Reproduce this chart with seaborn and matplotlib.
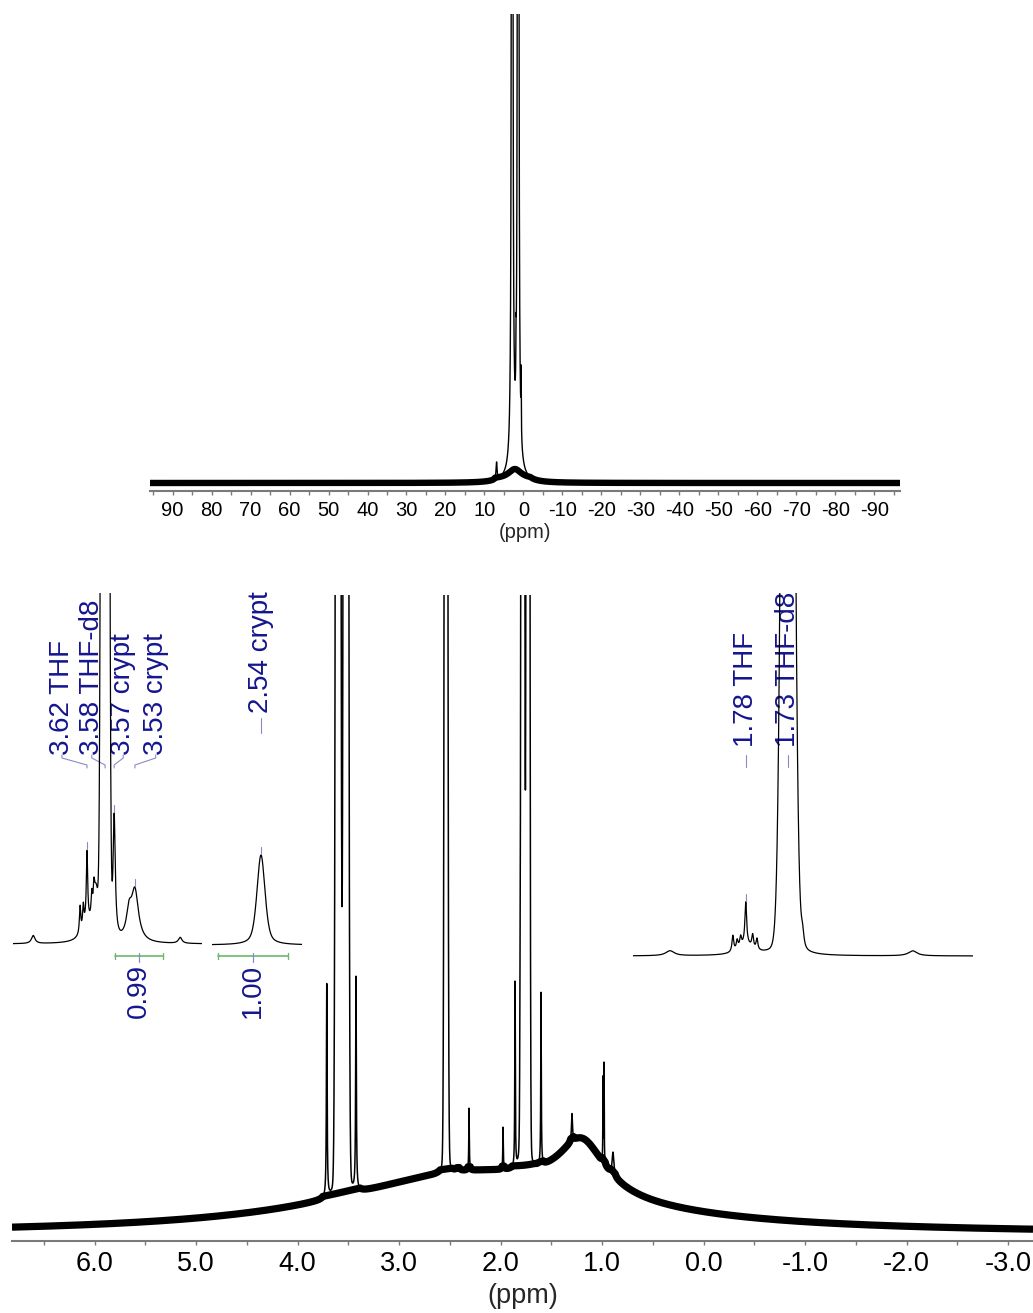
import numpy as np
import matplotlib
matplotlib.use("Agg")
import matplotlib.pyplot as plt
import seaborn as sns
from matplotlib.ticker import MultipleLocator, FormatStrFormatter

# Peak tables: position (ppm), height (px above baseline),
# half width (ppm), lorentzian fraction of the line shape
top_ppm = [6.9, 2.9, 1.9, 1.36, 0.6, 2.2]
top_height = [17, 30000, 40, 30000, 60, 10]
top_width = [0.15, 0.03, 0.05, 0.03, 0.05, 2.0]
top_lorentz = [1, 1, 1, 1, 1, 1]
top_offset = 8

main_ppm = [3.712, 3.600, 3.523, 3.424, 2.537, 2.419, 2.310, 1.975, 1.857, 1.808,
            1.7805, 1.7295, 1.601, 1.296, 0.990, 0.980, 0.892, 2.3, 1.2]
main_height = [213, 5000, 5000, 213, 3000, 5, 62, 42, 185, 90,
               5000, 5000, 172, 28, 83, 99, 23, 60, 55]
main_width = [0.004, 0.0168, 0.0168, 0.004, 0.0126, 0.015, 0.003, 0.003, 0.003, 0.004,
              0.0116, 0.0116, 0.003, 0.006, 0.002, 0.002, 0.01, 1.6, 0.28]
main_lorentz = [1, 0.02, 0.02, 1, 0.03, 1, 1, 1, 1, 1,
                0.02, 0.02, 1, 1, 1, 1, 1, 1, 1]
main_offset = 7

ins1_ppm = [3.721, 3.633, 3.627, 3.620, 3.611, 3.607, 3.603, 3.62, 3.586,
            3.569, 3.541, 3.530, 3.445]
ins1_height = [8, 27, 22, 70, 22, 20, 50, 15, 6420, 125, 25, 50, 6]
ins1_width = [0.004, 0.0015, 0.0015, 0.0015, 0.0015, 0.0015, 0.006, 0.012, 0.00457,
              0.0025, 0.006, 0.008, 0.004]
ins1_lorentz = [1, 1, 1, 1, 1, 1, 1, 1, 0, 1, 1, 1, 1]

ins2_ppm = [2.54]
ins2_height = [90]
ins2_width = [0.009]
ins2_lorentz = [0.5]

ins3_ppm = [1.868, 1.795, 1.790, 1.786, 1.780, 1.772, 1.767, 1.78, 1.731, 1.731,
            1.714, 1.586]
ins3_height = [5, 16, 9, 10, 42, 13, 11, 10, 1743, 60, 15, 5]
ins3_width = [0.006, 0.0012, 0.0012, 0.0012, 0.0012, 0.0012, 0.0012, 0.01, 0.00616,
              0.007, 0.002, 0.006]
ins3_lorentz = [1, 1, 1, 1, 1, 1, 1, 1, 0, 1, 1, 1]

# labels of the multiplets
ins1_labels = ["3.62 THF", "3.58 THF-d8", "3.57 crypt", "3.53 crypt"]
ins1_label_peak = [3.620, 3.586, 3.569, 3.530]
ins1_label_pos = [3.667, 3.611, 3.552, 3.491]
ins2_labels = ["2.54 crypt"]
ins2_label_peak = [2.54]
ins3_labels = ["1.78 THF", "1.73 THF-d8"]
ins3_label_peak = [1.780, 1.731]

integral_ranges = [(3.567, 3.477), (2.621, 2.489)]
integral_values = ["0.99", "1.00"]

text_blue = "#15158f"
line_blue = "#8a8ac8"
green = "#6cb86c"


def spectrum(x, ppm, height, width, lorentz, offset=0.0):
    y = np.full_like(x, float(offset))
    for p, h, w, e in zip(ppm, height, width, lorentz):
        d = (x - p) / w
        y += h * (e / (1 + d ** 2) + (1 - e) * np.exp(-np.log(2) * d ** 2))
    return y


sns.set_theme(style="white")
plt.rcParams["font.family"] = ["Liberation Sans", "DejaVu Sans"]
plt.rcParams["axes.unicode_minus"] = False

W, H = 1033, 1313
fig = plt.figure(figsize=(W / 100, H / 100), dpi=100)


def px_axes(left, top, right, bottom):
    return fig.add_axes([left / W, 1 - bottom / H, (right - left) / W, (bottom - top) / H])


def style_axis(ax, major, minor, fmt, size):
    for s in ["left", "top", "right"]:
        ax.spines[s].set_visible(False)
    ax.spines["bottom"].set_color("#7a7a7a")
    ax.spines["bottom"].set_linewidth(1.5)
    ax.set_yticks([])
    ax.xaxis.set_major_locator(MultipleLocator(major))
    ax.xaxis.set_minor_locator(MultipleLocator(minor))
    ax.xaxis.set_major_formatter(FormatStrFormatter(fmt))
    ax.tick_params(axis="x", which="both", direction="out", bottom=True,
                   color="#7a7a7a", length=3, width=1, labelsize=size, pad=4,
                   labelcolor="black")
    ax.set_facecolor("none")


# ---- top panel: full sweep ----
ax_top = px_axes(150, 14, 900, 491)
xt = np.linspace(95.8, -96.6, 40000)
yt = spectrum(xt, top_ppm, top_height, top_width, top_lorentz, top_offset)
bt = spectrum(xt, top_ppm[-1:], top_height[-1:], top_width[-1:], top_lorentz[-1:], top_offset)
ax_top.plot(xt, np.minimum(yt, bt + 4), color="black", lw=4.6, solid_capstyle="butt")
sns.lineplot(x=xt, y=yt, ax=ax_top, color="black", lw=1.0, estimator=None, sort=False)
ax_top.set_xlim(95.8, -96.6)
ax_top.set_ylim(0, 477)
style_axis(ax_top, 10, 5, "%d", 14.5)
ax_top.set_xlabel("(ppm)", fontsize=14.5)
ax_top.xaxis.label.set_va("center")
ax_top.xaxis.set_label_coords(0.5, -41 / 477)

# ---- bottom panel: expansion ----
ax = px_axes(12, 595, 1033, 1241)
xm = np.linspace(6.813, -3.246, 40000)
ym = spectrum(xm, main_ppm, main_height, main_width, main_lorentz, main_offset)
bm = spectrum(xm, main_ppm[-2:], main_height[-2:], main_width[-2:], main_lorentz[-2:], main_offset)
ax.plot(xm, np.minimum(ym, bm + 4), color="black", lw=5.2, solid_capstyle="butt")
sns.lineplot(x=xm, y=ym, ax=ax, color="black", lw=1.1, estimator=None, sort=False)
ax.set_xlim(6.813, -3.246)
ax.set_ylim(0, 646)
style_axis(ax, 1.0, 0.5, "%.1f", 19.5)
ax.set_xlabel("(ppm)", fontsize=19.5)
ax.xaxis.label.set_va("center")
ax.xaxis.set_label_coords(0.5, -55 / 646)


def inset(left, right, base, top, xlim, ppm, height, width, lorentz):
    a = px_axes(left, top, right, base + 6)
    a.set_axis_off()
    xs = np.linspace(xlim[0], xlim[1], 12000)
    ys = spectrum(xs, ppm, height, width, lorentz)
    sns.lineplot(x=xs, y=ys, ax=a, color="black", lw=0.9, estimator=None, sort=False, zorder=3)
    a.set_xlim(*xlim)
    a.set_ylim(-6, base - top)
    return a, xs, ys


def peak_top(xs, ys, p):
    return ys[np.argmin(np.abs(xs - p))]


def label_straight(a, xs, ys, p, text, text_bottom, dash_top, dash_bottom):
    a.text(p, text_bottom, text, rotation=90, ha="center", va="bottom",
           color=text_blue, fontsize=20, zorder=1)
    a.plot([p, p], [dash_bottom, dash_top], color=line_blue, lw=0.8, zorder=1)
    yp = peak_top(xs, ys, p)
    a.plot([p, p], [yp + 1, yp + 8], color=line_blue, lw=0.8, zorder=4)


def integral(a, rng, value, bar_y):
    a.plot(rng, [bar_y, bar_y], color=green, lw=1.2, clip_on=False)
    for e in rng:
        a.plot([e, e], [bar_y - 3, bar_y + 3], color=green, lw=1.0, clip_on=False)
    c = (rng[0] + rng[1]) / 2
    a.plot([c, c], [bar_y + 3, bar_y - 6], color=line_blue, lw=0.9, clip_on=False)
    a.text(c, bar_y - 8, value, rotation=90, ha="center", va="top",
           color=text_blue, fontsize=20, clip_on=False)


# inset 1: 3.76 - 3.40 ppm
a1, x1, y1 = inset(13, 202, 944, 593, (3.759, 3.404), ins1_ppm, ins1_height, ins1_width, ins1_lorentz)
for lbl, p, q in zip(ins1_labels, ins1_label_peak, ins1_label_pos):
    a1.text(q, 189, lbl, rotation=90, ha="center", va="bottom", color=text_blue, fontsize=20, zorder=1)
    a1.plot([q, q, p, p], [189, 186, 179, 176], color=line_blue, lw=0.8, zorder=1)
    yp = peak_top(x1, y1, p)
    if yp < 330:
        a1.plot([p, p], [yp + 1, yp + 8], color=line_blue, lw=0.8, zorder=4)
integral(a1, integral_ranges[0], integral_values[0], -12)

# inset 2: 2.54 ppm
a2, x2, y2 = inset(212, 302, 945, 593, (2.632, 2.463), ins2_ppm, ins2_height, ins2_width, ins2_lorentz)
label_straight(a2, x2, y2, ins2_label_peak[0], ins2_labels[0], 232, 227, 212)
integral(a2, integral_ranges[1], integral_values[1], -11)

# inset 3: 1.91 - 1.52 ppm
a3, x3, y3 = inset(633, 973, 956, 593, (1.911, 1.516), ins3_ppm, ins3_height, ins3_width, ins3_lorentz)
for lbl, p in zip(ins3_labels, ins3_label_peak):
    a3.text(p, 209, lbl, rotation=90, ha="center", va="bottom", color=text_blue, fontsize=20, zorder=1)
    a3.plot([p, p], [189, 201], color=line_blue, lw=0.8, zorder=1)
    yp = peak_top(x3, y3, p)
    if yp < 340:
        a3.plot([p, p], [yp + 1, yp + 8], color=line_blue, lw=0.8, zorder=4)

fig.savefig("out.png", dpi=100)
